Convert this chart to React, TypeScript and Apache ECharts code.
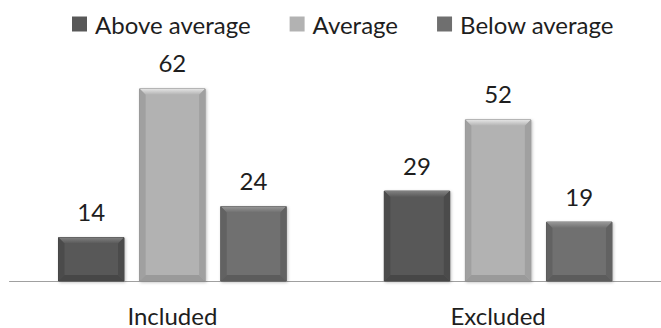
import React, { useEffect, useRef } from "react";
import * as echarts from "echarts";

// Categories and values per rating group
const categories = ["Included", "Excluded"];
const seriesNames = ["Above average", "Average", "Below average"];
const aboveAverage = [14, 29];
const average = [62, 52];
const belowAverage = [24, 19];

const FONT = "Lato, 'Open Sans', sans-serif";
const FONT_SIZE = 24;

type Shade = { face: string; top: string; side: string; bottom: string; border: string };

const shades: Shade[] = [
  { face: "#585858", top: "#808080", side: "#4b4b4b", bottom: "#474747", border: "#404040" },
  { face: "#b2b2b2", top: "#e4e4e4", side: "#a0a0a0", bottom: "#9a9a9a", border: "#8e8e8e" },
  { face: "#6f6f6f", top: "#979797", side: "#626262", bottom: "#5c5c5c", border: "#545454" },
];

function makeSeries(name: string, values: number[], idx: number) {
  const s = shades[idx];
  return {
    name,
    type: "custom",
    itemStyle: { color: s.face },
    encode: { x: 0, y: 1 },
    data: values.map((v, i) => [i, v]),
    renderItem: (_params: any, api: any) => {
      const cat = api.value(0);
      const val = api.value(1);
      const base = api.coord([cat, 0]);
      const topPt = api.coord([cat, val]);
      const band = api.size([1, 0])[0];
      const barW = band * 0.201;
      const pitch = band * 0.249;
      const cx = base[0] + (idx - 1) * pitch;
      const x = cx - barW / 2;
      const y = topPt[1];
      const h = base[1] - topPt[1];
      const w = barW;
      const b = Math.min(6, h / 3);
      return {
        type: "group",
        children: [
          {
            type: "rect",
            shape: { x, y, width: w, height: h },
            style: { fill: s.face, stroke: s.border, lineWidth: 1, shadowBlur: 3, shadowColor: "rgba(0,0,0,0.25)", shadowOffsetX: 1, shadowOffsetY: 1 },
          },
          {
            type: "polygon",
            shape: { points: [[x, y], [x + w, y], [x + w - b, y + b], [x + b, y + b]] },
            style: {
              fill: new echarts.graphic.LinearGradient(0, 0, 0, 1, [
                { offset: 0, color: s.top },
                { offset: 1, color: s.face },
              ]),
            },
          },
          {
            type: "polygon",
            shape: { points: [[x, y], [x + b, y + b], [x + b, y + h - b], [x, y + h]] },
            style: { fill: s.side },
          },
          {
            type: "polygon",
            shape: { points: [[x + w, y], [x + w - b, y + b], [x + w - b, y + h - b], [x + w, y + h]] },
            style: { fill: s.side },
          },
          {
            type: "polygon",
            shape: { points: [[x, y + h], [x + b, y + h - b], [x + w - b, y + h - b], [x + w, y + h]] },
            style: { fill: s.bottom },
          },
          {
            type: "text",
            x: cx,
            y: y - 14,
            style: {
              text: String(val),
              fill: "#1e1e1e",
              font: `${FONT_SIZE}px ${FONT}`,
              align: "center",
              verticalAlign: "bottom",
            },
          },
        ],
      };
    },
  };
}

export default function App() {
  const ref = useRef<HTMLDivElement>(null);

  useEffect(() => {
    if (!ref.current) return;
    const chart = echarts.init(ref.current, undefined, { renderer: "svg" });
    chart.setOption({
      animation: false,
      backgroundColor: "#ffffff",
      legend: {
        data: seriesNames,
        top: 12,
        left: 72,
        padding: 0,
        icon: "rect",
        itemWidth: 15,
        itemHeight: 15,
        itemGap: 39,
        textStyle: { fontFamily: FONT, fontSize: FONT_SIZE, color: "#1e1e1e", padding: [0, 0, 0, 3] },
      },
      grid: { left: 9.5, right: -10.5, top: 64, bottom: 47, containLabel: false },
      xAxis: {
        type: "category",
        data: categories,
        axisLine: { lineStyle: { color: "#a0a0a0", width: 1 } },
        axisTick: { show: false },
        axisLabel: { fontFamily: FONT, fontSize: FONT_SIZE, color: "#1e1e1e", margin: 22 },
      },
      yAxis: { type: "value", min: 0, max: 70, show: false, splitLine: { show: false } },
      series: [
        makeSeries(seriesNames[0], aboveAverage, 0),
        makeSeries(seriesNames[1], average, 1),
        makeSeries(seriesNames[2], belowAverage, 2),
      ],
    });
    return () => chart.dispose();
  }, []);

  return (
    <div
      ref={ref}
      style={{ position: "fixed", left: 0, top: 0, width: 661, height: 328 }}
    />
  );
}
